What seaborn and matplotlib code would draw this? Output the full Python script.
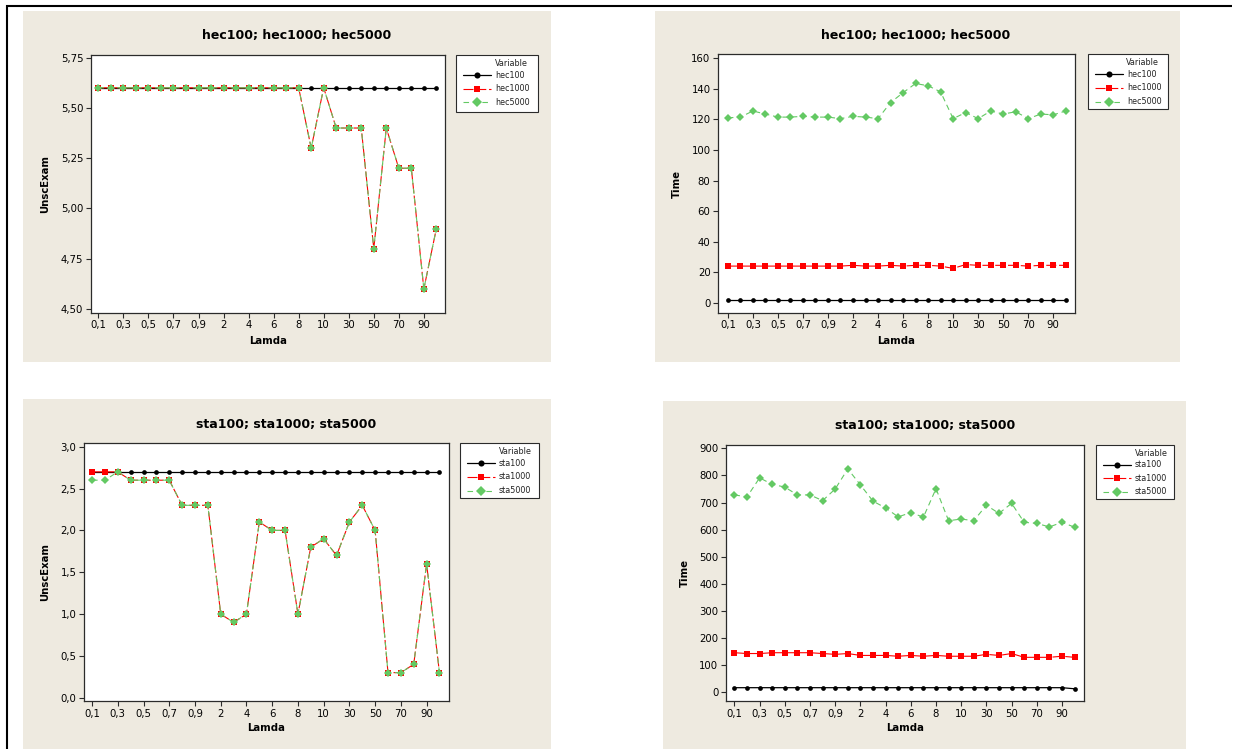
import matplotlib
matplotlib.use("Agg")
import matplotlib.pyplot as plt
from matplotlib.patches import Rectangle
from matplotlib.lines import Line2D
from matplotlib.ticker import FixedLocator, FuncFormatter
import seaborn as sns
import pandas as pd

# ---------------------------------------------------------------- data
lamda = ["0,1", "0,2", "0,3", "0,4", "0,5", "0,6", "0,7", "0,8", "0,9",
         "1", "2", "3", "4", "5", "6", "7", "8", "9", "10",
         "20", "30", "40", "50", "60", "70", "80", "90", "100"]

hec100_unsc = [5.6] * 28
hec1000_unsc = [5.6, 5.6, 5.6, 5.6, 5.6, 5.6, 5.6, 5.6, 5.6, 5.6, 5.6, 5.6, 5.6, 5.6,
                5.6, 5.6, 5.6, 5.3, 5.6, 5.4, 5.4, 5.4, 4.8, 5.4, 5.2, 5.2, 4.6, 4.9]
hec5000_unsc = [5.6, 5.6, 5.6, 5.6, 5.6, 5.6, 5.6, 5.6, 5.6, 5.6, 5.6, 5.6, 5.6, 5.6,
                5.6, 5.6, 5.6, 5.3, 5.6, 5.4, 5.4, 5.4, 4.8, 5.4, 5.2, 5.2, 4.6, 4.9]

hec100_time = [2] * 28
hec1000_time = [24, 24, 24, 24, 24, 24, 24, 24, 24, 24, 24.5, 24, 24, 24.5,
                24, 24.5, 24.5, 24, 22.5, 25, 24.5, 24.5, 24.5, 24.5, 24, 24.5, 24.5, 24.5]
hec5000_time = [121, 121.5, 125.5, 123.5, 121.5, 121.5, 122, 121.5, 121.5, 120.5,
                122, 121.5, 120.5, 131, 137.5, 143.5, 142, 138, 120.5, 124.5,
                120.5, 125.5, 123.5, 125, 120.5, 123.5, 123, 125.5]

sta100_unsc = [2.7] * 28
sta1000_unsc = [2.7, 2.7, 2.7, 2.6, 2.6, 2.6, 2.6, 2.3, 2.3, 2.3, 1.0, 0.9, 1.0, 2.1,
                2.0, 2.0, 1.0, 1.8, 1.9, 1.7, 2.1, 2.3, 2.0, 0.3, 0.3, 0.4, 1.6, 0.3]
sta5000_unsc = [2.6, 2.6, 2.7, 2.6, 2.6, 2.6, 2.6, 2.3, 2.3, 2.3, 1.0, 0.9, 1.0, 2.1,
                2.0, 2.0, 1.0, 1.8, 1.9, 1.7, 2.1, 2.3, 2.0, 0.3, 0.3, 0.4, 1.6, 0.3]

sta100_time = [17] * 27 + [13]
sta1000_time = [146, 143, 143, 146, 146, 146, 146, 143, 140, 143, 136, 136, 136, 133,
                136, 133, 136, 133, 133, 133, 140, 136, 143, 129, 129, 129, 133, 129]
sta5000_time = [728, 721, 791, 767, 757, 728, 728, 707, 750, 824, 765, 705, 680, 647,
                663, 646, 751, 633, 639, 633, 690, 660, 697, 627, 623, 610, 627, 609]

# ---------------------------------------------------------------- style
BEIGE = "#EEEAE0"
FRAME = "#2b2b2b"
COLORS = ["#000000", "#FF0000", "#63C963"]
MARKERS = ["o", "s", "D"]
MSIZES = [3.4, 3.9, 4.0]
LSTYLES = ["-", (0, (9, 2.5)), (0, (5, 3.5))]

sns.set_theme(style="white")
plt.rcParams["font.family"] = ["DejaVu Sans"]

W, H = 1234, 749
fig = plt.figure(figsize=(W / 100, H / 100), dpi=100)
fig.patch.set_facecolor("white")


def px_axes(x0, y0, x1, y1, **kw):
    return fig.add_axes([x0 / W, 1 - y1 / H, (x1 - x0) / W, (y1 - y0) / H], **kw)


# background layer in pixel coordinates
bg = px_axes(0, 0, W, H)
bg.set_xlim(0, W)
bg.set_ylim(H, 0)
bg.axis("off")
bg.plot([7, 7], [5, H], color="black", lw=1.5, solid_capstyle="butt")
bg.plot([6, 1232], [6, 6], color="black", lw=1.5, solid_capstyle="butt")

panels = [
    dict(bg=(23, 11, 551, 362), box=(91, 55, 445, 312.7),
         ylim=(4.482, 5.763), yticks=[4.5, 4.75, 5.0, 5.25, 5.5, 5.75], fmt="{:.2f}",
         xlim=(-0.59, 27.69), title="hec100; hec1000; hec5000", tpos=(296.7, 36),
         ylabel="UnscExam", ylx=45.4, lbly=340.7,
         names=["hec100", "hec1000", "hec5000"],
         series=[hec100_unsc, hec1000_unsc, hec5000_unsc],
         legend=(456, 55, 538.3, 111.7)),
    dict(bg=(655, 11, 1180, 362), box=(718.2, 54.3, 1074.8, 312.7),
         ylim=(-6.5, 162.6), yticks=list(range(0, 161, 20)), fmt="{:.0f}",
         xlim=(-0.77, 27.72), title="hec100; hec1000; hec5000", tpos=(915.8, 36),
         ylabel="Time", ylx=677.3, lbly=340.7,
         names=["hec100", "hec1000", "hec5000"],
         series=[hec100_time, hec1000_time, hec5000_time],
         legend=(1087.8, 54.3, 1167.6, 109.5)),
    dict(bg=(23, 399, 551, H), box=(84.2, 443.3, 448.6, 701),
         ylim=(-0.039, 3.041), yticks=[0, 0.5, 1.0, 1.5, 2.0, 2.5, 3.0], fmt="{:.1f}",
         xlim=(-0.61, 27.71), title="sta100; sta1000; sta5000", tpos=(286, 424.3),
         ylabel="UnscExam", ylx=45.4, lbly=728.3,
         names=["sta100", "sta1000", "sta5000"],
         series=[sta100_unsc, sta1000_unsc, sta5000_unsc],
         legend=(460, 443.3, 538.8, 498.3)),
    dict(bg=(663, 401, 1186, H), box=(726.1, 444.7, 1083.9, 701.3),
         ylim=(-33.2, 913.3), yticks=list(range(0, 901, 100)), fmt="{:.0f}",
         xlim=(-0.66, 27.74), title="sta100; sta1000; sta5000", tpos=(925.2, 426),
         ylabel="Time", ylx=684.4, lbly=728,
         names=["sta100", "sta1000", "sta5000"],
         series=[sta100_time, sta1000_time, sta5000_time],
         legend=(1096, 444.7, 1174.2, 499.3)),
]

pos = list(range(len(lamda)))

for p in panels:
    x0, y0, x1, y1 = p["bg"]
    bg.add_patch(Rectangle((x0, y0), x1 - x0, y1 - y0, fc=BEIGE, ec="none", zorder=0))

    bx0, by0, bx1, by1 = p["box"]
    ax = px_axes(bx0, by0, bx1, by1)
    ax.set_facecolor("white")

    for name, vals, c, m, ms, ls in zip(p["names"], p["series"], COLORS, MARKERS, MSIZES, LSTYLES):
        df = pd.DataFrame({"Lamda": pos, "value": vals})
        sns.lineplot(data=df, x="Lamda", y="value", ax=ax, color=c, marker=m,
                     markersize=ms, markeredgewidth=0, linewidth=0.8 if ls != "-" else 0.9,
                     linestyle=ls, errorbar=None, sort=False, legend=False)

    ax.set_xlim(*p["xlim"])
    ax.set_ylim(*p["ylim"])
    ax.xaxis.set_major_locator(FixedLocator(pos[::2]))
    ax.set_xticklabels(lamda[::2])
    ax.yaxis.set_major_locator(FixedLocator(p["yticks"]))
    fmt = p["fmt"]
    ax.yaxis.set_major_formatter(FuncFormatter(lambda v, _, f=fmt: f.format(v).replace(".", ",")))
    ax.tick_params(axis="both", direction="out", length=3.5, width=0.8, color=FRAME,
                   labelsize=7.3, labelcolor="black", pad=2,
                   bottom=True, left=True, top=False, right=False)
    for s in ax.spines.values():
        s.set_visible(True)
        s.set_color(FRAME)
        s.set_linewidth(0.9)
    ax.grid(False)

    ax.set_xlabel("Lamda", fontsize=7.3, fontweight="bold", color="black")
    ax.xaxis.label.set_va("center")
    ax.xaxis.set_label_coords(0.5, 1 - (p["lbly"] - by0) / (by1 - by0))
    ax.set_ylabel(p["ylabel"], fontsize=7.3, fontweight="bold", color="black")
    ax.yaxis.label.set_va("center")
    ax.yaxis.set_label_coords((p["ylx"] - bx0) / (bx1 - bx0), 0.5)

    tx, ty = p["tpos"]
    ax.set_title(p["title"], fontsize=9, fontweight="bold", color="black", pad=0,
                 x=(tx - bx0) / (bx1 - bx0), y=1 - (ty - by0) / (by1 - by0), va="center")

    # legend box
    lx0, ly0, lx1, ly1 = p["legend"]
    bg.add_patch(Rectangle((lx0, ly0), lx1 - lx0, ly1 - ly0, fc="white", ec=FRAME,
                           lw=0.8, zorder=2))
    bg.text(lx0 + 55, ly0 + 8.5, "Variable", fontsize=5.8, ha="center", va="center",
            color="#222222", zorder=3)
    for k, (name, c, m, ms, ls) in enumerate(zip(p["names"], COLORS, MARKERS, MSIZES, LSTYLES)):
        yy = ly0 + 20 + k * 13.6
        bg.add_line(Line2D([lx0 + 7.3, lx0 + 34.7], [yy, yy], color=c,
                           lw=0.8 if ls != "-" else 0.9, linestyle=ls, zorder=3))
        bg.add_line(Line2D([lx0 + 21.3], [yy], color=c, marker=m, markersize=ms + 1,
                           markeredgewidth=0, zorder=4))
        bg.text(lx0 + 39, yy, name, fontsize=5.8, ha="left", va="center",
                color="#222222", zorder=3)

fig.savefig("out.png", dpi=100, facecolor="white")
